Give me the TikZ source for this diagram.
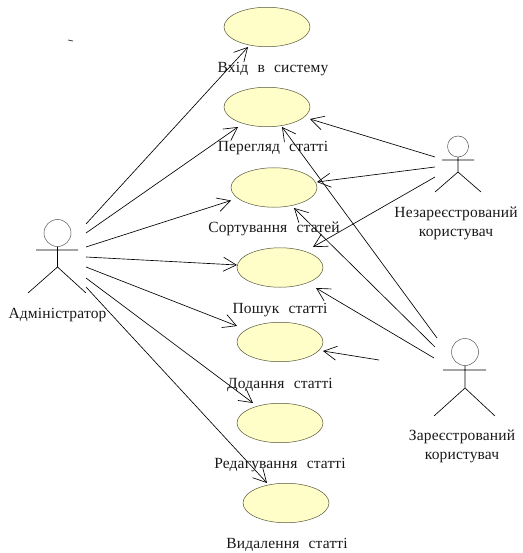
\documentclass[tikz,border=0pt]{standalone}
\usepackage{fontspec}
\setmainfont{Liberation Serif}[LetterSpace=1,WordSpace=2.3]
\usetikzlibrary{shapes.geometric,arrows.meta}
\definecolor{ucfill}{HTML}{FFFDC8}
\definecolor{ucline}{HTML}{55553A}
\definecolor{headline}{HTML}{555555}
\tikzset{
  usecase/.style={ellipse,draw=ucline,fill=ucfill,line width=0.5pt,minimum width=86pt,minimum height=39.5pt,inner sep=0pt},
  lbl/.style={font=\fontsize{15.5}{19}\selectfont,align=center,inner sep=0pt,text=black!90,yshift=-1pt},
  head/.style={circle,draw=headline,line width=0.5pt,inner sep=0pt},
  limb/.style={line width=0.65pt,draw=black},
  assoc/.style={line width=0.65pt,draw=black,-{Straight Barb[length=13pt,width=14pt,line width=0.65pt]}},
}
\newcommand{\ptr}[3]{([shift={(#2,#3)}]#1.center)}
\begin{document}
\begin{tikzpicture}[x=1pt,y=-1pt]
\useasboundingbox (0,0) rectangle (522,553);
% use cases
\node[usecase] (e1) at (267,27) {};
\node[usecase] (e2) at (267,107) {};
\node[usecase] (e3) at (274,187.5) {};
\node[usecase] (e4) at (280,267.5) {};
\node[usecase] (e5) at (280,342) {};
\node[usecase] (e6) at (280,423) {};
\node[usecase] (e7) at (286,503) {};
% labels
\node[lbl] (l1) at (273,68) {Вхід в систему};
\node[lbl] (l2) at (273,147) {Перегляд статті};
\node[lbl] (l3) at (274,228) {Сортування статей};
\node[lbl] (l4) at (280,309) {Пошук статті};
\node[lbl] (l5) at (280,384) {Додання статті};
\node[lbl] (l6) at (280,464) {Редагування статті};
\node[lbl] (l7) at (287,544) {Видалення статті};
\node[lbl] (la) at (57.5,314) {Адміністратор};
\node[lbl] (ln) at (456,222.5) {Незареєстрований\\користувач};
\node[lbl] (lr) at (462,445.5) {Зареєстрований\\користувач};
% actors
\node[head,minimum size=27pt] (adm) at (57.5,233) {};
\draw[limb] (adm.south) -- (57.5,267) (36,250) -- (78,250) (28,293) -- (57.5,267) -- (86,293);
\node[head,minimum size=21pt] (non) at (458,146.5) {};
\draw[limb] (non.south) -- (458,172) (442,160) -- (474,160) (435,192) -- (458,172) -- (481,192);
\node[head,minimum size=27pt] (reg) at (465,352) {};
\draw[limb] (reg.south) -- (465,388) (443,370) -- (486,370) (434,416) -- (465,388) -- (495,416);
% stray mark
\coordinate (markA) at (68,40);
\coordinate (markB) at (73,41);
\draw[line width=0.7pt,black!80] (markA) -- (markB);
% administrator links
\draw[assoc] \ptr{adm}{28.5}{-9} -- \ptr{e1}{-19}{20};
\draw[assoc] \ptr{adm}{28.5}{0} -- \ptr{e2}{-29}{20};
\draw[assoc] \ptr{adm}{28.5}{14} -- \ptr{e3}{-43}{13};
\draw[assoc] \ptr{adm}{28.5}{24} -- \ptr{e4}{-43}{-2.5};
\draw[assoc] \ptr{adm}{28.5}{34} -- \ptr{e5}{-43}{-16};
\draw[assoc] \ptr{adm}{28.5}{45} -- \ptr{e6}{-27}{-20};
\draw[assoc] \ptr{adm}{28.5}{54} -- \ptr{e7}{-19}{-20};
% unregistered links
\draw[assoc] \ptr{non}{-23}{10.5} -- \ptr{e2}{43}{12};
\draw[assoc] \ptr{non}{-23}{20.5} -- \ptr{e3}{43}{-5.5};
\draw[assoc] \ptr{non}{-23}{30.5} -- \ptr{e4}{33}{-20.5};
% registered links
\draw[assoc] \ptr{reg}{-28}{-14} -- \ptr{e2}{15}{20};
\draw[assoc] \ptr{reg}{-30}{-5} -- \ptr{e3}{20}{20.5};
\draw[assoc] \ptr{reg}{-31}{6} -- \ptr{e4}{36}{20.5};
\draw[assoc] \ptr{reg}{-86}{8} -- \ptr{e5}{43}{9};
\end{tikzpicture}
\end{document}
